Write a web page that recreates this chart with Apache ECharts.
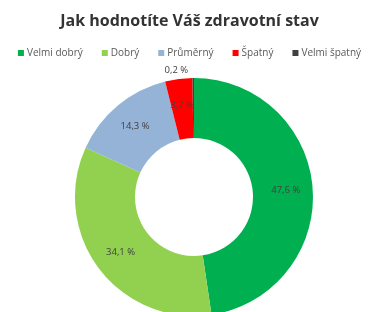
<!DOCTYPE html>
<html><head><meta charset="utf-8">
<script src="https://cdn.jsdelivr.net/npm/echarts@6/dist/echarts.min.js"></script>
<style>html,body{margin:0;padding:0;background:#fff}#c{width:379px;height:312px}</style>
</head><body><div id="c"></div>
<script>
const categories = ["Velmi dobrý", "Dobrý", "Průměrný", "Špatný", "Velmi špatný"];
const values = [47.6, 34.1, 14.3, 3.7, 0.2];
const colors = ["#00B050", "#92D050", "#95B3D7", "#FF0000", "#404040"];
const fmt = v => v.toFixed(1).replace('.', ',') + ' %';
const data = categories.map((name, i) => {
  const d = { name, value: values[i], itemStyle: { color: colors[i] } };
  if (i === 4) {
    d.label = { position: 'outside', alignTo: 'none' };
    d.labelLine = { show: false, length: 8, length2: 0 };
  }
  return d;
});
const chart = echarts.init(document.getElementById('c'));
chart.setOption({
  backgroundColor: '#fff',
  animation: false,
  title: {
    text: 'Jak hodnotíte Váš zdravotní stav',
    left: 'center', top: 8,
    textStyle: { fontFamily: 'Open Sans', fontWeight: 'bold', fontSize: 16, color: '#333' }
  },
  legend: {
    data: categories, top: 43, left: 'center',
    itemWidth: 6, itemHeight: 6, itemGap: 19, icon: 'rect',
    textStyle: { fontFamily: 'Open Sans', fontSize: 10, color: '#595959', padding: [0, 0, 0, -2] }
  },
  series: [{
    type: 'pie',
    center: [194, 197],
    radius: [59, 119],
    startAngle: 90,
    clockwise: true,
    avoidLabelOverlap: false,
    labelLine: { show: false, length: 2, length2: 0 },
    label: {
      show: true, position: 'inside',
      formatter: p => fmt(p.value),
      fontFamily: 'Open Sans', fontSize: 9.5, color: '#404040'
    },
    data
  }]
});
</script></body></html>
